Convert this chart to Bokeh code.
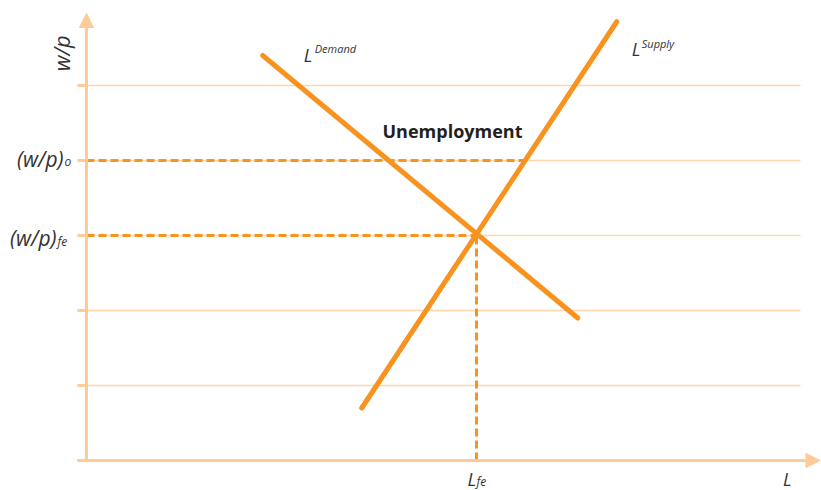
import numpy as np
from bokeh.plotting import figure
from bokeh.models import Arrow, NormalHead, Range1d
from bokeh.core.properties import value
from bokeh.embed import file_html
from bokeh.resources import INLINE

# ---- data (labour market diagram) ----
demand_L = [2.35, 6.55]
demand_wp = [5.4, 1.9]
supply_L = [3.67, 7.07]
supply_wp = [0.7, 5.85]
wp_levels = [0, 1, 2, 3, 4, 5]
wp_o = 4.0
wp_fe = 3.0
L_fe = 5.2
L_axis_end = 9.78
wp_axis_end = 5.96
grid_end = 9.52

# supply quantity at the above-equilibrium real wage
L_o_supply = float(np.interp(wp_o, supply_wp, supply_L))

ORANGE = "#F7931E"
AXIS = "#FDCB98"
GRID = "#FDD5AE"
TEXT = "#333333"
FONT = "Open Sans"

p = figure(width=821, height=490,
           x_range=Range1d(-86 / 75, 735 / 75), y_range=Range1d(-30 / 75, 460 / 75),
           output_backend="svg", toolbar_location=None, min_border=0,
           x_axis_location=None, y_axis_location=None)
p.outline_line_color = None
p.grid.visible = False
p.background_fill_color = "white"

# gridlines
gl = wp_levels[1:]
p.segment(x0=[0] * len(gl), y0=gl, x1=[grid_end] * len(gl), y1=gl,
          line_color=GRID, line_width=1.5)
# tick stubs
p.segment(x0=[-0.12] * len(wp_levels), y0=wp_levels, x1=[0] * len(wp_levels), y1=wp_levels,
          line_color=AXIS, line_width=3)

# axes with arrowheads
p.add_layout(Arrow(end=NormalHead(size=14, fill_color=AXIS, line_color=AXIS, line_width=1),
                   x_start=0, y_start=0, x_end=0, y_end=wp_axis_end,
                   line_color=AXIS, line_width=3))
p.add_layout(Arrow(end=NormalHead(size=14, fill_color=AXIS, line_color=AXIS, line_width=1),
                   x_start=-0.12, y_start=0, x_end=L_axis_end, y_end=0,
                   line_color=AXIS, line_width=3))

# dashed reference lines
p.line([0, L_o_supply], [wp_o, wp_o], line_color=ORANGE, line_width=3, line_dash="8 4")
p.line([0, L_fe], [wp_fe, wp_fe], line_color=ORANGE, line_width=3, line_dash="8 4")
p.line([L_fe, L_fe], [0, wp_fe], line_color=ORANGE, line_width=3, line_dash="8 4")

# demand & supply
p.line(demand_L, demand_wp, line_color=ORANGE, line_width=5, line_cap="round")
p.line(supply_L, supply_wp, line_color=ORANGE, line_width=5, line_cap="round")


def label(x, y, txt, dx=0, dy=0, size="18px", style="italic", align="left",
          baseline="alphabetic", angle=0.0, color=TEXT):
    p.text(x=[x], y=[y], text=[txt], x_offset=dx, y_offset=dy, angle=angle,
           text_align=align, text_baseline=baseline, text_font=value(FONT),
           text_font_size=size, text_font_style=style, text_color=color)


# y-axis labels
label(0, wp_o, "(w/p)", dx=-23, dy=-2, size="21px", align="right")
label(0, wp_o, "o", dx=-22, dy=1, size="12px")
label(0, wp_fe, "(w/p)", dx=-30, dy=2, size="21px", align="right")
label(0, wp_fe, "fe", dx=-29, dy=6, size="12px")
label(0, 5.43, "w/p", dx=-26, size="22px", align="center", baseline="middle", angle=np.pi / 2)

# x-axis labels
label(L_fe, 0, "L", dx=-9, dy=18, size="18px")
label(L_fe, 0, "fe", dx=0, dy=21, size="12px")
label(L_axis_end, 0, "L", dx=-37, dy=18, size="18px")

# curve labels
label(demand_L[0], demand_wp[0], "L", dx=41, dy=-1, size="18px")
label(demand_L[0], demand_wp[0], "Demand", dx=52, dy=-7, size="11px")
label(supply_L[1], supply_wp[1], "L", dx=15, dy=27, size="18px")
label(supply_L[1], supply_wp[1], "Supply", dx=25, dy=22, size="11px")

label(L_fe, wp_o, "Unemployment", dx=-24, dy=-30, size="18px", style="bold",
      align="center", color="#231F20")

open("out.html", "w").write(file_html(p, INLINE))
